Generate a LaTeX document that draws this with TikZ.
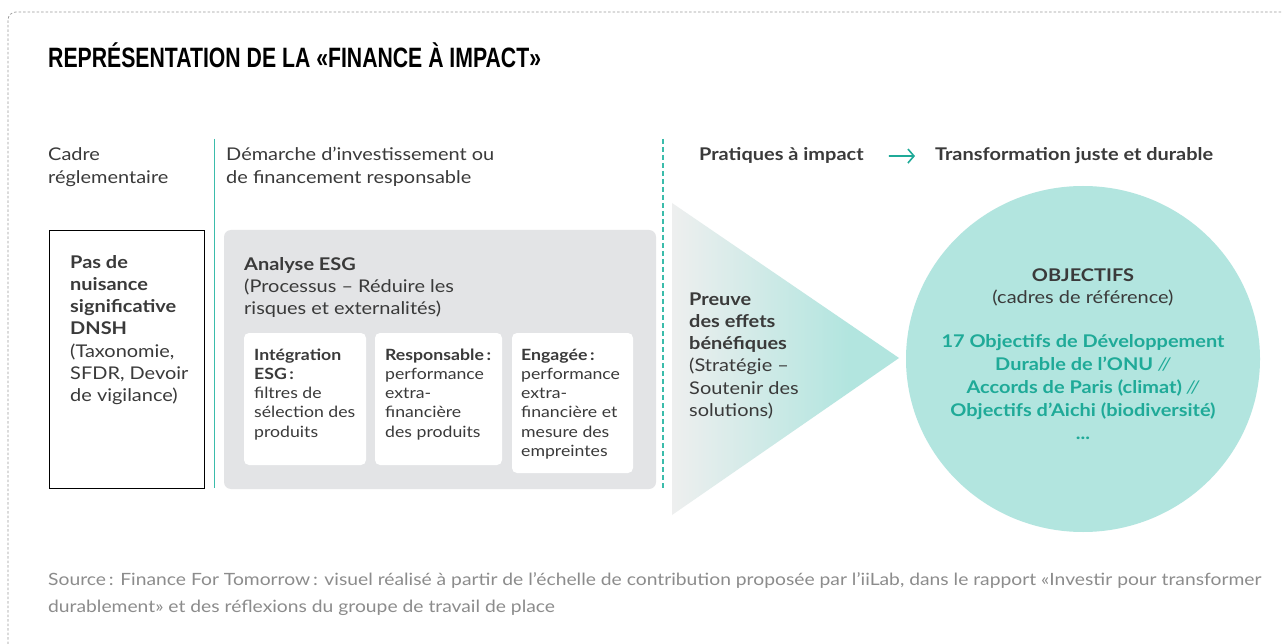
\documentclass[tikz,border=0pt]{standalone}
\usepackage{fontspec}
\setmainfont[FakeStretch=1.14]{Lato}
\newfontfamily\titlefont[FakeStretch=0.758]{Liberation Sans}
\usetikzlibrary{arrows.meta,shapes.geometric}
\definecolor{txtc}{HTML}{3A3A3A}
\definecolor{tealc}{HTML}{3BBCAB}
\definecolor{tealdark}{HTML}{1FAA98}
\definecolor{tealfill}{HTML}{B2E5DF}
\definecolor{grayfill}{HTML}{E3E4E6}
\definecolor{trigray}{HTML}{EEEFEF}
\definecolor{srcc}{HTML}{8C8C8C}
\definecolor{borderc}{HTML}{9A9A9A}
\pgfdeclarehorizontalshading{trigrad}{100bp}{color(0bp)=(trigray); color(25bp)=(trigray); color(64bp)=(tealfill); color(100bp)=(tealfill)}
\tikzset{
  x=1pt, y=-1pt,
  txt/.style={anchor=base west, inner sep=0pt, align=left, text=txtc, font=\fontsize{17.5}{22.3}\selectfont},
  smalltxt/.style={anchor=base west, inner sep=0pt, align=left, text=txtc, font=\fontsize{15.5}{19.3}\selectfont},
  whitebox/.style={fill=white, rounded corners=5pt, draw=none},
  arr/.style={draw=tealdark, line width=1.6pt, -{Straight Barb[length=6pt,width=14pt]}}
}
\begin{document}
\begin{tikzpicture}
\useasboundingbox (0,0) rectangle (1282,644);
\fill[white] (0,0) rectangle (1282,644);
% dashed frame
\draw[borderc, line width=0.7pt, dash pattern=on 2.5pt off 2pt] (8,644) -- (8,20) arc[start angle=180, end angle=270, radius=8] -- (1282,12);
% title
\node[anchor=base west, inner sep=0pt, text=black, font=\titlefont\bfseries\fontsize{28}{30}\selectfont] (title) at (48,68) {REPRÉSENTATION DE LA «FINANCE À IMPACT»};
% column headers (base anchor = last line)
\node[txt] (cadre) at (48,183.3) {Cadre\\réglementaire};
\node[txt] (demarche) at (226,183.3) {Démarche d’investissement ou\\de financement responsable};
\node[txt, font=\bfseries\fontsize{17.5}{22}\selectfont] (prat) at (699,161) {Pratiques à impact};
\node[txt, font=\bfseries\fontsize{17.5}{22}\selectfont] (trans) at (935,161) {Transformation juste et durable};
\draw[arr, shorten <=25pt, shorten >=20pt] (prat.east) -- (trans.west);
% separators
\draw[tealc, line width=1pt] (214,139) coordinate (s1a) -- (214,488) coordinate (s1b);
\draw[tealc, line width=1.2pt, dash pattern=on 5pt off 3pt] (663,139) coordinate (s2a) -- (663,488) coordinate (s2b);
% DNSH box
\draw[black, line width=1pt] (49,231) rectangle (204,488);
\node[txt] (dnsh) at (70,401.8) {\textbf{Pas de}\\\textbf{nuisance}\\\textbf{significative}\\\textbf{DNSH}\\(Taxonomie,\\SFDR, Devoir\\de vigilance)};
% ESG grey box
\fill[grayfill, rounded corners=7pt] (224,230) rectangle (656,489);
\node[txt] (esg) at (244,314.6) {\textbf{Analyse ESG}\\(Processus – Réduire les\\risques et externalités)};
\fill[whitebox] (244,333) rectangle (366,465);
\fill[whitebox] (375,333) rectangle (502,465);
\fill[whitebox] (512,333) rectangle (633,473);
\node[smalltxt] (b1) at (254,437.2) {\textbf{Intégration}\\\textbf{ESG\,:}\\filtres de\\sélection des\\produits};
\node[smalltxt] (b2) at (385,437.2) {\textbf{Responsable\,:}\\performance\\extra-\\financière\\des produits};
\node[smalltxt] (b3) at (521,456.5) {\textbf{Engagée\,:}\\performance\\extra-\\financière et\\mesure des\\empreintes};
% triangle
\shade[shading=trigrad] (672,203) -- (899,358) -- (672,515) -- cycle;
\node[txt] (preuve) at (689,416.5) {\textbf{Preuve}\\\textbf{des effets}\\\textbf{bénéfiques}\\(Stratégie –\\Soutenir des\\solutions)};
% ellipse
\fill[tealfill] (1083,359) ellipse[x radius=177, y radius=173];
\node[anchor=base, inner sep=0pt, align=center, text=txtc, font=\fontsize{17.5}{22}\selectfont] (obj) at (1083,304) {\textbf{OBJECTIFS}\\(cadres de référence)};
\node[anchor=base, inner sep=0pt, align=center, text=tealdark, font=\bfseries\fontsize{17.5}{23}\selectfont] (goals) at (1083,439) {17 Objectifs de Développement\\Durable de l’ONU {\mdseries\itshape //}\\Accords de Paris (climat) {\mdseries\itshape //}\\Objectifs d’Aichi (biodiversité)\\...};
% source
\node[anchor=base west, inner sep=0pt, align=left, text=srcc, font=\fontsize{16.9}{27}\selectfont] (src) at (48,612) {Source\,: Finance For Tomorrow\,: visuel réalisé à partir de l’échelle de contribution proposée par l’iiLab, dans le rapport «Investir pour transformer\\durablement» et des réflexions du groupe de travail de place};
\end{tikzpicture}
\end{document}
